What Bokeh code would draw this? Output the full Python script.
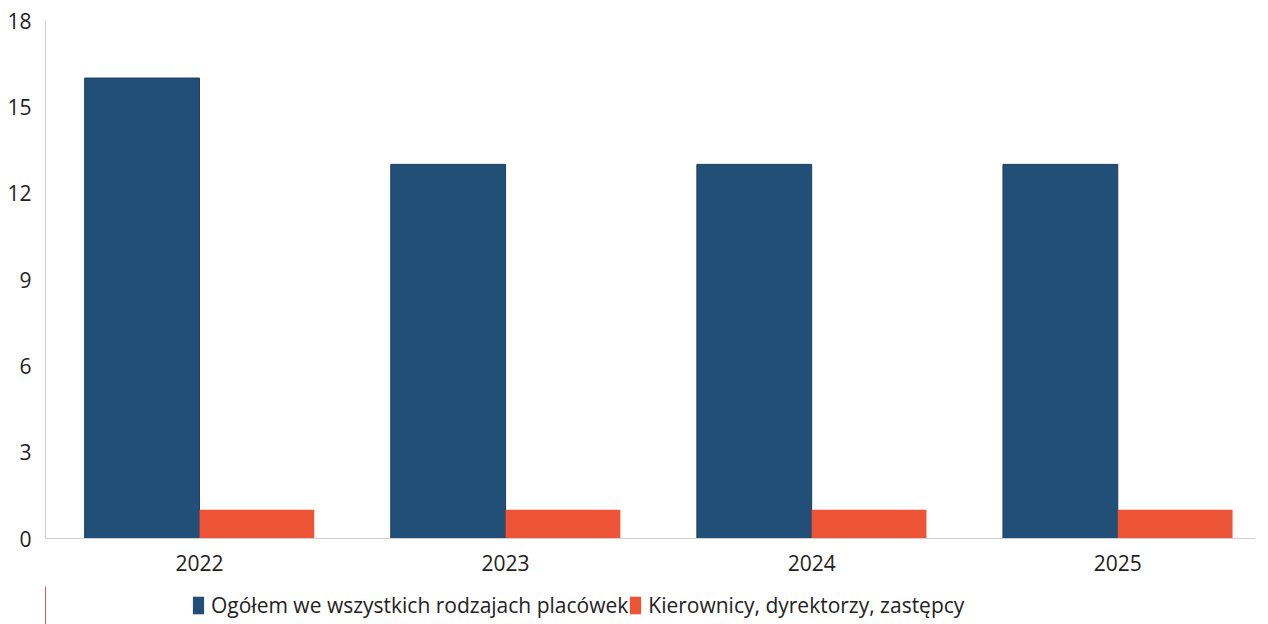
from bokeh.plotting import figure
from bokeh.layouts import column
from bokeh.models import FixedTicker, Range1d, Legend, LegendItem, ColumnDataSource
from bokeh.embed import file_html
from bokeh.resources import INLINE

years = ["2022", "2023", "2024", "2025"]
ogolem = [16, 13, 13, 13]
kierownicy = [1, 1, 1, 1]
series_names = ["Ogółem we wszystkich rodzajach placówek", "Kierownicy, dyrektorzy, zastępcy"]
series_colors = ["#224f77", "#ec5435"]
y_ticks = [0, 3, 6, 9, 12, 15, 18]

xs = list(range(len(years)))
bw = 0.375
src = ColumnDataSource(dict(
    x=xs,
    xb=[x - bw / 2 for x in xs],
    xr=[x + bw / 2 for x in xs],
    ogolem=ogolem,
    kier=kierownicy,
))

FONT = "Open Sans"

p = figure(frame_width=1210, frame_height=518, output_backend="svg", toolbar_location=None,
           x_range=Range1d(-0.503, 3.45), y_range=Range1d(0, 18),
           min_border_left=45, min_border_right=5, min_border_top=20, min_border_bottom=48)
p.outline_line_color = None
p.grid.visible = False

p.vbar(x="xb", top="ogolem", width=bw, source=src, fill_color=series_colors[0], line_color="#1a3d5c", line_width=1)
p.vbar(x="xr", top="kier", width=bw, source=src, fill_color=series_colors[1], line_color=None)

p.xaxis.ticker = FixedTicker(ticks=xs)
p.xaxis.major_label_overrides = {i: y for i, y in enumerate(years)}
p.yaxis.ticker = FixedTicker(ticks=y_ticks)
for ax in (p.xaxis, p.yaxis):
    ax.axis_line_color = "#d0d0d0"
    ax.major_tick_line_color = None
    ax.minor_tick_line_color = None
    ax.major_label_text_font = FONT
    ax.major_label_text_font_size = "21px"
    ax.major_label_text_color = "#222222"
p.yaxis.major_label_standoff = 8
p.xaxis.major_label_standoff = 10

# legend strip below the chart (its range shows none of the bars; they only feed the legend swatches)
lg = figure(width=1260, height=38, output_backend="svg", toolbar_location=None,
            x_range=Range1d(10, 11), y_range=Range1d(0, 1),
            x_axis_location=None, y_axis_location=None,
            min_border_left=0, min_border_right=0, min_border_top=0, min_border_bottom=0)
lg.outline_line_color = None
lg.grid.visible = False
rb = lg.vbar(x="xb", top="ogolem", width=bw, source=src, fill_color=series_colors[0], line_color=None)
rr = lg.vbar(x="xr", top="kier", width=bw, source=src, fill_color=series_colors[1], line_color=None)

legend = Legend(items=[LegendItem(label=series_names[0], renderers=[rb]),
                       LegendItem(label=series_names[1], renderers=[rr])],
                orientation="horizontal", location=(146, 5),
                label_text_font=FONT, label_text_font_size="21px", label_text_color="#222222",
                glyph_width=14, glyph_height=22, spacing=0, label_standoff=6,
                border_line_color=None, background_fill_alpha=0, padding=2, margin=0)
lg.add_layout(legend, "center")

layout = column(p, lg, spacing=0)
open("out.html", "w").write(file_html(layout, INLINE))
